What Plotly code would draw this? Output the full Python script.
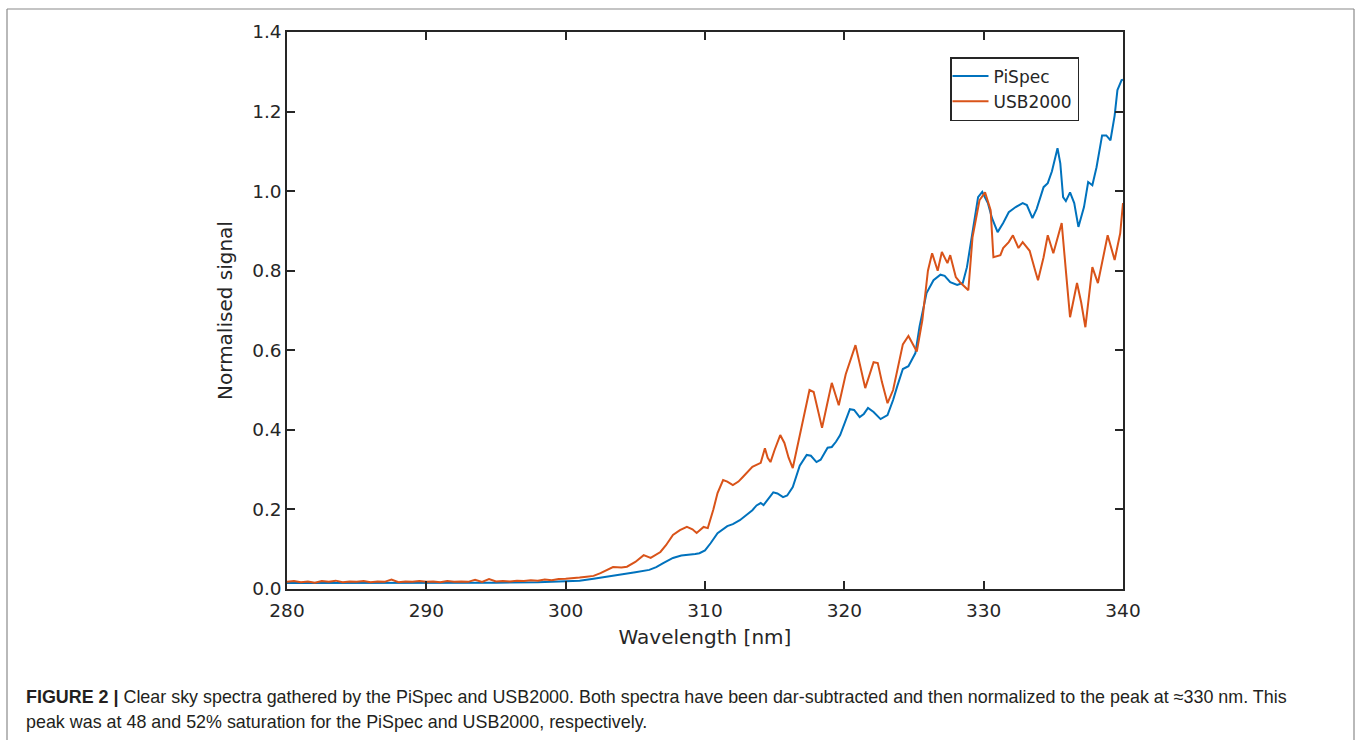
import plotly.graph_objects as go

# PiSpec (blue)
pispec_x = [280, 285, 290, 295, 298, 300, 301, 302, 303, 304, 305, 306, 306.5, 307, 307.7, 308.3, 308.7,
            309.3, 309.6, 310.0, 310.4, 310.9, 311.6, 312.0, 312.5, 313.0, 313.4, 313.7, 314.0, 314.2,
            314.5, 314.9, 315.2, 315.6, 315.9, 316.3, 316.8, 317.3, 317.6, 318.0, 318.3, 318.8, 319.1,
            319.4, 319.7, 320.0, 320.4, 320.7, 321.1, 321.4, 321.7, 322.1, 322.6, 323.1, 323.5, 323.8,
            324.2, 324.6, 325.1, 325.4, 325.9, 326.4, 326.9, 327.2, 327.6, 328.1, 328.5, 328.8, 329.2,
            329.6, 329.9, 330.3, 330.6, 331.0, 331.4, 331.8, 332.3, 332.8, 333.1, 333.5, 333.8, 334.3,
            334.6, 334.9, 335.3, 335.5, 335.7, 335.9, 336.2, 336.5, 336.8, 337.2, 337.5, 337.8, 338.1,
            338.5, 338.8, 339.1, 339.4, 339.6, 339.9, 340.0]
pispec_y = [0.015, 0.015, 0.015, 0.016, 0.017, 0.019, 0.021, 0.026, 0.031, 0.036, 0.042, 0.048, 0.055, 0.065,
            0.078, 0.084, 0.085, 0.088, 0.09, 0.097, 0.115, 0.14, 0.158, 0.163, 0.173, 0.188, 0.198, 0.21,
            0.216, 0.211, 0.225, 0.243, 0.24, 0.231, 0.235, 0.256, 0.31, 0.337, 0.335, 0.319, 0.325, 0.355,
            0.357, 0.37, 0.387, 0.415, 0.452, 0.45, 0.432, 0.44, 0.455, 0.445, 0.427, 0.437, 0.475, 0.51,
            0.553, 0.56, 0.593, 0.66, 0.744, 0.776, 0.79, 0.787, 0.771, 0.764, 0.769, 0.809, 0.902, 0.985,
            0.998, 0.97, 0.932, 0.897, 0.92, 0.947, 0.96, 0.97, 0.965, 0.932, 0.955, 1.01, 1.02, 1.05,
            1.108, 1.07, 0.985, 0.975, 0.997, 0.97, 0.91, 0.96, 1.023, 1.015, 1.06, 1.14, 1.14, 1.128,
            1.19, 1.254, 1.279, 1.28]

# USB2000 (orange)
usb_x = [280, 280.5, 281, 281.5, 282, 282.5, 283, 283.5, 284, 284.5, 285, 285.5, 286, 286.5, 287, 287.5,
         288, 288.5, 289, 289.5, 290, 290.5, 291, 291.5, 292, 292.5, 293, 293.5, 294, 294.5, 295, 295.5,
         296, 296.5, 297, 297.5, 298, 298.5, 299, 299.5, 300, 300.5, 301, 301.5, 302, 302.5, 303, 303.4,
         304, 304.4, 305, 305.6, 306.1, 306.8, 307.2, 307.7, 308.2, 308.7, 309.1, 309.4, 309.9, 310.2,
         310.6, 310.9, 311.3, 311.6, 312.0, 312.4, 312.7, 313.1, 313.4, 314.0, 314.3, 314.5, 314.7, 315.0,
         315.4, 315.7, 316.0, 316.3, 317.0, 317.5, 317.8, 318.1, 318.4, 318.8, 319.1, 319.6, 320.1, 320.8,
         321.1, 321.5, 322.1, 322.4, 322.7, 323.1, 323.5, 323.8, 324.2, 324.6, 325.2, 325.6, 326.0, 326.3,
         326.7, 327.0, 327.4, 327.6, 328.0, 328.3, 328.9, 329.2, 329.7, 330.1, 330.5, 330.7, 331.2, 331.4,
         331.8, 332.1, 332.5, 332.8, 333.3, 333.7, 333.9, 334.3, 334.6, 335.0, 335.6, 335.9, 336.2, 336.7,
         337.0, 337.3, 337.8, 338.2, 338.9, 339.4, 339.8, 340.0]
usb_y = [0.018, 0.02, 0.017, 0.019, 0.016, 0.02, 0.018, 0.021, 0.017, 0.019, 0.018, 0.02, 0.017, 0.019,
         0.018, 0.024, 0.017, 0.019, 0.018, 0.02, 0.018, 0.019, 0.017, 0.02, 0.018, 0.019, 0.018, 0.023,
         0.018, 0.025, 0.019, 0.02, 0.019, 0.021, 0.02, 0.022, 0.021, 0.024, 0.022, 0.025, 0.026, 0.027,
         0.029, 0.031, 0.033, 0.04, 0.048, 0.055, 0.054, 0.056, 0.068, 0.085, 0.078, 0.093, 0.11, 0.136,
         0.148, 0.156, 0.15, 0.141, 0.156, 0.153, 0.2, 0.241, 0.274, 0.27, 0.261, 0.27, 0.281, 0.295,
         0.307, 0.317, 0.354, 0.33, 0.319, 0.35, 0.387, 0.367, 0.33, 0.304, 0.417, 0.5, 0.495, 0.45,
         0.405, 0.47, 0.518, 0.462, 0.54, 0.613, 0.57, 0.505, 0.57, 0.568, 0.52, 0.467, 0.5, 0.55, 0.615,
         0.636, 0.597, 0.676, 0.8, 0.844, 0.8, 0.847, 0.819, 0.839, 0.784, 0.771, 0.751, 0.884, 0.977,
         0.997, 0.952, 0.834, 0.839, 0.857, 0.872, 0.889, 0.857, 0.872, 0.85, 0.8, 0.776, 0.834, 0.889,
         0.844, 0.92, 0.8, 0.683, 0.769, 0.72, 0.658, 0.809, 0.769, 0.889, 0.827, 0.894, 0.97]

x_ticks = [280, 290, 300, 310, 320, 330, 340]
y_ticks = [0.0, 0.2, 0.4, 0.6, 0.8, 1.0, 1.2, 1.4]

caption_line1 = ("<b>FIGURE 2 |</b> Clear sky spectra gathered by the PiSpec and USB2000. Both spectra have been "
                 "dar-subtracted and then normalized to the peak at \u2248330 nm. This")
caption_line2 = "peak was at 48 and 52% saturation for the PiSpec and USB2000, respectively."

W, H = 1357, 740
L, R, T, B = 287, 1123, 32, 589
pw, ph = R - L, B - T


def px(xp):
    return (xp - L) / pw


def py(yp):
    return (B - yp) / ph


fig = go.Figure()
fig.add_trace(go.Scatter(x=pispec_x, y=pispec_y, mode="lines", name="PiSpec",
                         line=dict(color="#0072BD", width=2)))
fig.add_trace(go.Scatter(x=usb_x, y=usb_y, mode="lines", name="USB2000",
                         line=dict(color="#D95319", width=2)))

axis_common = dict(showline=True, linecolor="#262626", linewidth=1.5, mirror="allticks",
                   ticks="inside", ticklen=8, tickwidth=1.5, tickcolor="#262626",
                   showgrid=False, zeroline=False,
                   tickfont=dict(family="DejaVu Sans", size=18.5, color="#262626"))

fig.update_layout(
    width=W, height=H,
    margin=dict(l=L, r=W - R, t=T, b=H - B, autoexpand=False),
    paper_bgcolor="white", plot_bgcolor="white",
    xaxis=dict(range=[280, 340], tickvals=x_ticks, ticktext=[str(v) for v in x_ticks],
               ticklabelstandoff=4,
               title=dict(text="Wavelength [nm]", font=dict(family="DejaVu Sans", size=20, color="#262626"),
                          standoff=10),
               **axis_common),
    yaxis=dict(range=[0, 1.4], tickvals=y_ticks, ticktext=[f"{v:.1f}" for v in y_ticks],
               title=dict(text="Normalised signal", font=dict(family="DejaVu Sans", size=20, color="#262626"),
                          standoff=14),
               **axis_common),
    legend=dict(x=px(950), y=py(57), xanchor="left", yanchor="top",
                bgcolor="white", bordercolor="#262626", borderwidth=1.5,
                font=dict(family="DejaVu Sans", size=17, color="#262626"),
                tracegroupgap=0, itemwidth=36, indentation=-4),
    showlegend=True,
)

# outer frame (top, left, right)
for x0, y0, x1, y1 in [(7, 9, 1354, 9), (7, 9, 7, 745), (1354, 9, 1354, 745)]:
    fig.add_shape(type="line", xref="paper", yref="paper",
                  x0=px(x0), y0=py(y0), x1=px(x1), y1=py(y1),
                  line=dict(color="#8a8a8a", width=1.2))

fig.add_annotation(text=caption_line1, xref="paper", yref="paper", x=px(24), y=py(697),
                   xanchor="left", yanchor="middle", showarrow=False,
                   font=dict(family="Liberation Sans", size=17.9, color="#231f20"))
fig.add_annotation(text=caption_line2, xref="paper", yref="paper", x=px(24), y=py(722),
                   xanchor="left", yanchor="middle", showarrow=False,
                   font=dict(family="Liberation Sans", size=17.9, color="#231f20"))

fig.write_html("out.html")
